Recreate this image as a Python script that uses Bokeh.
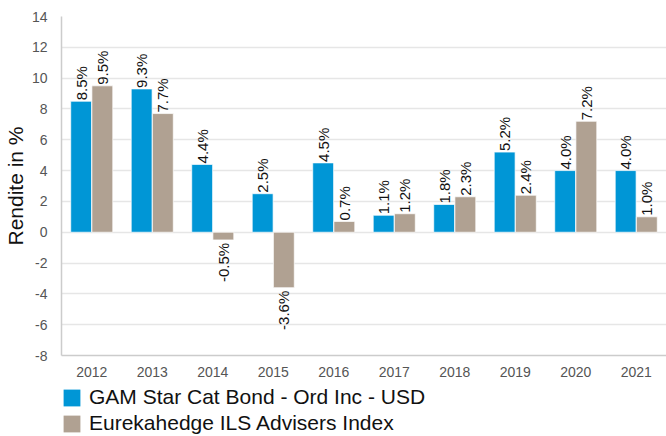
import math
from bokeh.plotting import figure
from bokeh.layouts import column
from bokeh.models import (ColumnDataSource, FactorRange, Range1d, Legend, LegendItem,
                          FixedTicker, CustomJSTickFormatter)
from bokeh.transform import dodge
from bokeh.core.properties import value
from bokeh.embed import file_html
from bokeh.resources import INLINE

years = ["2012", "2013", "2014", "2015", "2016", "2017", "2018", "2019", "2020", "2021"]
gam = [8.5, 9.3, 4.4, 2.5, 4.5, 1.1, 1.8, 5.2, 4.0, 4.0]
eureka = [9.5, 7.7, -0.5, -3.6, 0.7, 1.2, 2.3, 2.4, 7.2, 1.0]
series_names = ["GAM Star Cat Bond - Ord Inc - USD", "Eurekahedge ILS Advisers Index"]
colors = ["#0096D6", "#B0A192"]
y_ticks = [-8, -6, -4, -2, 0, 2, 4, 6, 8, 10, 12, 14]

FONT = "Liberation Sans"

src = ColumnDataSource(dict(
    year=years, gam=gam, eureka=eureka,
    gam_lbl=[f"{v:.1f}%" for v in gam],
    eur_lbl=[f"{v:.1f}%" for v in eureka],
    gam_align=["left" if v >= 0 else "right" for v in gam],
    eur_align=["left" if v >= 0 else "right" for v in eureka],
    gam_off=[-1 if v >= 0 else 3 for v in gam],
    eur_off=[-1 if v >= 0 else 3 for v in eureka],
))

p = figure(
    x_range=FactorRange(*years, range_padding=0),
    y_range=Range1d(-8, 14),
    width=666, height=380,
    output_backend="svg", toolbar_location=None,
    min_border_left=61, min_border_top=16, min_border_right=0, min_border_bottom=25,
    background_fill_color="white", border_fill_color="white",
)
p.outline_line_color = None

bar_kw = dict(width=0.345, source=src, line_color="white", line_width=1, line_alpha=0.7)
p.vbar(x=dodge("year", -0.175, range=p.x_range), top="gam", bottom=0,
       fill_color=colors[0], **bar_kw)
p.vbar(x=dodge("year", 0.175, range=p.x_range), top="eureka", bottom=0,
       fill_color=colors[1], **bar_kw)

p.text(x=dodge("year", -0.175, range=p.x_range), y="gam", text="gam_lbl", source=src,
       angle=math.pi / 2, text_align="gam_align", text_baseline="middle",
       y_offset="gam_off", text_font=value(FONT), text_font_size="15px", text_color="#111111")
p.text(x=dodge("year", 0.175, range=p.x_range), y="eureka", text="eur_lbl", source=src,
       angle=math.pi / 2, text_align="eur_align", text_baseline="middle",
       y_offset="eur_off", text_font=value(FONT), text_font_size="15px", text_color="#111111")

# axes
p.yaxis.ticker = FixedTicker(ticks=y_ticks)
p.yaxis.formatter = CustomJSTickFormatter(code="return String(tick);")
p.yaxis.axis_label = "Rendite in %"
p.yaxis.axis_label_text_font = FONT
p.yaxis.axis_label_text_font_style = "normal"
p.yaxis.axis_label_text_font_size = "21px"
p.yaxis.axis_label_text_color = "#111111"
p.yaxis.axis_label_standoff = 2
for ax in (p.xaxis[0], p.yaxis[0]):
    ax.major_label_text_font = FONT
    ax.major_label_text_font_size = "14px"
    ax.major_label_text_color = "#555555"
    ax.major_tick_line_color = None
    ax.minor_tick_line_color = None
    ax.axis_line_color = "#CCCCCC"
    ax.axis_line_width = 1.5
p.yaxis.major_label_standoff = 8
p.xaxis.major_label_standoff = 5

p.xgrid.grid_line_color = None
p.ygrid.grid_line_color = "#E6E6E6"
p.ygrid.grid_line_width = 1.5
p.ygrid.ticker = FixedTicker(ticks=y_ticks)

# legend in a separate strip below the chart
lg = figure(width=666, height=56, x_range=Range1d(0, 1), y_range=Range1d(0, 1),
            output_backend="svg", toolbar_location=None,
            x_axis_type=None, y_axis_type=None,
            min_border_left=43, min_border_right=0,
            min_border_top=5, min_border_bottom=0)
lg.outline_line_color = None
lg.grid.visible = False
hidden = ColumnDataSource(dict(x=[-10], top=[-10]))
d1 = lg.vbar(x="x", top="top", width=0.1, source=hidden, fill_color=colors[0], line_color=None)
d2 = lg.vbar(x="x", top="top", width=0.1, source=hidden, fill_color=colors[1], line_color=None)

legend = Legend(
    items=[LegendItem(label=series_names[0], renderers=[d1]),
           LegendItem(label=series_names[1], renderers=[d2])],
    orientation="vertical", location="top_left",
    label_text_font=FONT, label_text_font_size="21px", label_text_color="#111111",
    glyph_width=21, glyph_height=21, label_height=21, spacing=2,
    label_standoff=7, padding=0, margin=0,
    border_line_color=None, background_fill_alpha=0,
)
lg.add_layout(legend)

open("out.html", "w").write(file_html(column(p, lg), INLINE))
